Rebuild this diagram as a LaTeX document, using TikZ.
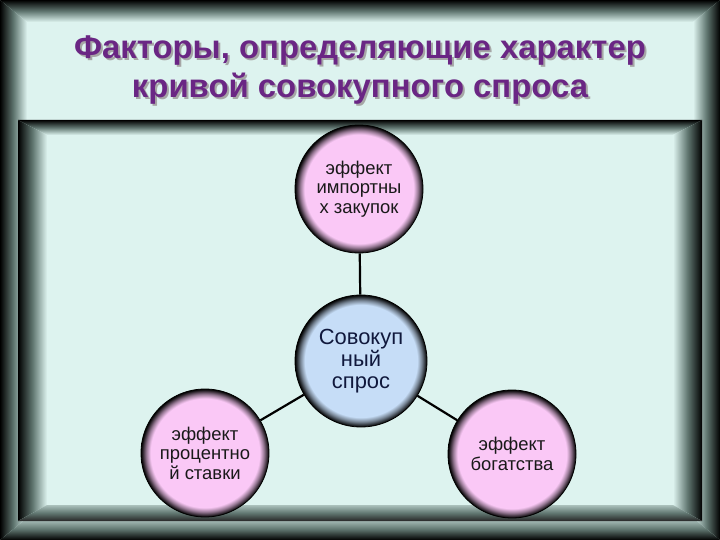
\documentclass[tikz,border=0pt]{standalone}
\usepackage{fontspec}
\setmainfont{Liberation Sans}
\definecolor{bg}{RGB}{221,243,239}
\definecolor{pinkc}{RGB}{250,200,246}
\definecolor{bluec}{RGB}{198,221,247}
\definecolor{titlec}{RGB}{106,38,132}
\definecolor{frameg}{RGB}{96,118,112}
\definecolor{navy}{RGB}{16,24,60}
\pgfdeclareradialshading{pinkball}{\pgfpointorigin}{color(0bp)=(pinkc); color(21.3bp)=(pinkc); color(23bp)=(pinkc!60!black); color(24.3bp)=(pinkc!20!black); color(25bp)=(black); color(50bp)=(black)}
\pgfdeclareradialshading{blueball}{\pgfpointorigin}{color(0bp)=(bluec); color(21.3bp)=(bluec); color(23bp)=(bluec!60!black); color(24.3bp)=(bluec!20!black); color(25bp)=(black); color(50bp)=(black)}
\tikzset{
  pinkcirc/.style={circle, inner sep=0pt, minimum size=128bp, shading=pinkball, draw=black, line width=0.8bp, align=center, text=black!90, font=\fontsize{18.5}{19.5}\selectfont},
  bluecirc/.style={circle, inner sep=0pt, minimum size=132bp, shading=blueball, draw=black, line width=0.8bp, align=center, text=navy, font=\fontsize{22}{22}\selectfont},
  conn/.style={draw=black, line width=2.2bp},
  ttl/.style={font=\bfseries\fontsize{33}{39}\selectfont, align=center},
}
\begin{document}
\begin{tikzpicture}[x=1bp, y=-1bp]
\useasboundingbox (0,0) rectangle (720,540);
\fill[bg] (0,0) rectangle (720,540);
% outer frame
\shade[top color=black, bottom color=bg, middle color=frameg] (0,0) -- (720,0) -- (693,22) -- (27,22) -- cycle;
\shade[left color=black, right color=bg, middle color=frameg] (0,0) -- (27,22) -- (27,518) -- (0,540) -- cycle;
\shade[right color=black, left color=bg, middle color=frameg] (720,0) -- (693,22) -- (693,518) -- (720,540) -- cycle;
\shade[bottom color=black, top color=bg!70!frameg, middle color=frameg] (0,540) -- (27,518) -- (693,518) -- (720,540) -- cycle;
% inner frame
\fill[bg] (18,120) rectangle (702,521);
\shade[top color=black, bottom color=bg, middle color=frameg] (18,120) -- (702,120) -- (673,135) -- (47,135) -- cycle;
\shade[left color=black, right color=bg, middle color=frameg] (18,120) -- (47,135) -- (47,505) -- (18,521) -- cycle;
\shade[right color=black, left color=bg, middle color=frameg] (702,120) -- (673,135) -- (673,505) -- (702,521) -- cycle;
\shade[bottom color=black!85, top color=bg!60!frameg, middle color=frameg] (18,521) -- (47,505) -- (673,505) -- (702,521) -- cycle;
% title
\node[ttl, text=black!35] (tshadow) at (362,72) {Факторы, определяющие характер\\кривой совокупного спроса};
\node[ttl, text=titlec] (title) at (360,70) {Факторы, определяющие характер\\кривой совокупного спроса};
% circles
\node[pinkcirc] (imp) at (359,189) {эффект\\импортны\\х закупок};
\node[bluecirc] (agg) at (361,361) {Совокуп\\ный\\спрос};
\node[pinkcirc] (rate) at (205,453) {эффект\\процентно\\й ставки};
\node[pinkcirc] (wealth) at (512,454) {эффект\\богатства};
\draw[conn] (imp) -- (agg);
\draw[conn] (agg) -- (rate);
\draw[conn] (agg) -- (wealth);
\end{tikzpicture}
\end{document}
